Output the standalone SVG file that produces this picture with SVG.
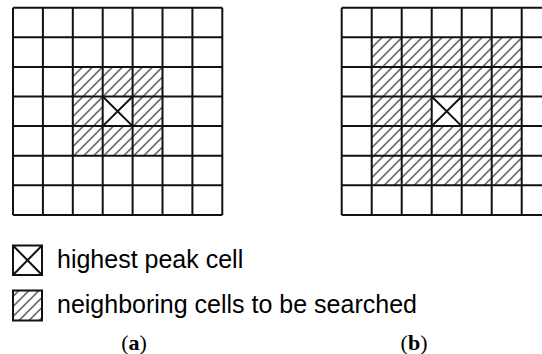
<svg xmlns="http://www.w3.org/2000/svg" width="542" height="354" viewBox="0 0 542 354">
  <style>
    .grid { fill: none; stroke: #111; stroke-width: 2; }
    .box { fill: none; stroke: #111; stroke-width: 2; }
    .hatch { fill: url(#hatch); }
    .cross { stroke: #111; stroke-width: 2; }
    .legend { font-family: "Liberation Sans", Arial, sans-serif; font-size: 25px; fill: #000; }
    .cap { font-family: "Liberation Serif", "Times New Roman", serif; font-size: 22px; fill: #000; }
  </style>
  <defs>
    <pattern id="hatch" patternUnits="userSpaceOnUse" x="9.5" y="0" width="10" height="10">
      <rect width="10" height="10" fill="#fff"/>
      <path d="M-1,11 L11,-1 M-1,1 L1,-1 M9,11 L11,9" stroke="#222" stroke-width="1.2"/>
    </pattern>
  </defs>
  <rect width="542" height="354" fill="#fff"/>

  <g id="grid-a">
    <rect class="hatch" x="72.8" y="66.9" width="89.7" height="88.8"/>
    <rect x="102.7" y="96.5" width="29.9" height="29.6" fill="#fff"/>
    <path class="cross" d="M102.7,96.5 L132.6,126.1 M132.6,96.5 L102.7,126.1"/>
    <path class="grid" d="M13,7.7 V214.9 M42.9,7.7 V214.9 M72.8,7.7 V214.9 M102.7,7.7 V214.9 M132.6,7.7 V214.9 M162.5,7.7 V214.9 M192.4,7.7 V214.9 M222.3,7.7 V214.9
      M13,7.7 H222.3 M13,37.3 H222.3 M13,66.9 H222.3 M13,96.5 H222.3 M13,126.1 H222.3 M13,155.7 H222.3 M13,185.3 H222.3 M13,214.9 H222.3"/>
  </g>

  <g id="grid-b">
    <rect class="hatch" x="371.7" y="37.3" width="150" height="148"/>
    <rect x="431.7" y="96.5" width="30" height="29.6" fill="#fff"/>
    <path class="cross" d="M431.7,96.5 L461.7,126.1 M461.7,96.5 L431.7,126.1"/>
    <path class="grid" d="M341.7,7.7 V214.9 M371.7,7.7 V214.9 M401.7,7.7 V214.9 M431.7,7.7 V214.9 M461.7,7.7 V214.9 M491.7,7.7 V214.9 M521.7,7.7 V214.9 M551.7,7.7 V214.9
      M341.7,7.7 H551.7 M341.7,37.3 H551.7 M341.7,66.9 H551.7 M341.7,96.5 H551.7 M341.7,126.1 H551.7 M341.7,155.7 H551.7 M341.7,185.3 H551.7 M341.7,214.9 H551.7"/>
  </g>

  <g id="legend-peak">
    <rect class="box" x="13" y="245.5" width="29" height="29.5"/>
    <path class="cross" d="M13,245.5 L42,275 M42,245.5 L13,275"/>
    <text class="legend" x="57" y="268">highest peak cell</text>
  </g>

  <g id="legend-neighbor">
    <rect class="hatch" x="13" y="290.5" width="29" height="30"/>
    <rect class="box" x="13" y="290.5" width="29" height="30"/>
    <text class="legend" x="57" y="313">neighboring cells to be searched</text>
  </g>

  <g id="captions">
    <text class="cap" x="134" y="350" text-anchor="middle">(<tspan font-weight="bold">a</tspan>)</text>
    <text class="cap" x="414" y="350" text-anchor="middle">(<tspan font-weight="bold">b</tspan>)</text>
  </g>
</svg>
